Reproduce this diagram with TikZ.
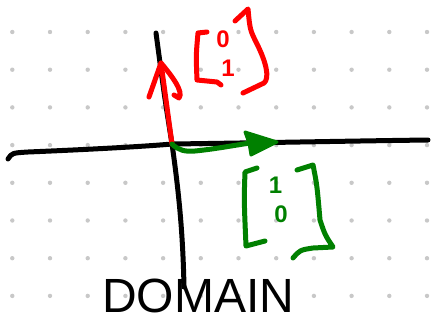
\documentclass[tikz,border=0pt]{standalone}
\usepackage{fontspec}
\setmainfont{Liberation Sans}
\definecolor{dotgray}{RGB}{200,200,200}
\definecolor{vred}{RGB}{255,0,0}
\definecolor{vgreen}{RGB}{0,128,0}
\tikzset{
  pen/.style={line width=5pt, line cap=round, line join=round},
  griddot/.style={fill=dotgray, draw=none},
  digit/.style={font=\fontsize{24}{24}\selectfont\bfseries, inner sep=0pt},
}
\begin{document}
\begin{tikzpicture}[x=1pt,y=-1pt]
\useasboundingbox (0,0) rectangle (433,324);
% dotted grid
\foreach \i in {0,...,11}{
  \foreach \j in {0,...,7}{
    \fill[griddot] ({12.3+37.7*\i},{32+37.7*\j}) circle (2.2);
  }
}
% named points
\coordinate (O) at (172,144);
\coordinate (redtip) at (161,63);
\coordinate (greentip) at (277,142);
% axes
\draw[pen] (8,159) .. controls (12,153) .. (28,152) .. controls (100,149) and (150,146) .. (O)
  .. controls (250,143) and (350,141) .. (428,140);
\draw[pen] (156,33) .. controls (165,100) .. (O) .. controls (180,200) and (183,240) .. (184,287);
% red vector
\draw[pen, vred] (O) -- (redtip);
\draw[pen, vred] (149,97) -- (redtip) .. controls (172,76) and (184,92) .. (179,98) -- (174,95);
% red label
\draw[pen, vred] (207,32) -- (198,33) .. controls (196,55) .. (197,80) -- (217,82) -- (221,85);
\draw[pen, vred] (235,21) -- (248,9) .. controls (250,30) .. (257,44) .. controls (266,62) and (270,78) .. (264,83) -- (243,93);
\node[digit, text=vred] (r0) at (223,39) {0};
\node[digit, text=vred] (r1) at (228,68) {1};
% green vector
\draw[pen, vgreen] (O) .. controls (178,150) and (185,152) .. (195,151) .. controls (215,149) and (230,146) .. (250,143);
\fill[vgreen, draw=vgreen, line width=3pt, line join=round] (greentip) -- (245,132) -- (249,143) -- (251,155) -- cycle;
% green label
\draw[pen, vgreen] (257,168) -- (245,172) .. controls (244,200) .. (246,246) -- (265,241);
\draw[pen, vgreen] (297,170) -- (313,165) .. controls (317,185) .. (320,220) .. controls (325,235) .. (333,247) -- (313,248) .. controls (300,250) .. (293,258);
\node[digit, text=vgreen] (g1) at (275.5,185) {1};
\node[digit, text=vgreen] (g0) at (281,214) {0};
% domain text
\node[font=\fontsize{48}{48}\selectfont, anchor=base west, inner sep=0pt] (domain) at (102,312) {DOMAIN};
\end{tikzpicture}
\end{document}
